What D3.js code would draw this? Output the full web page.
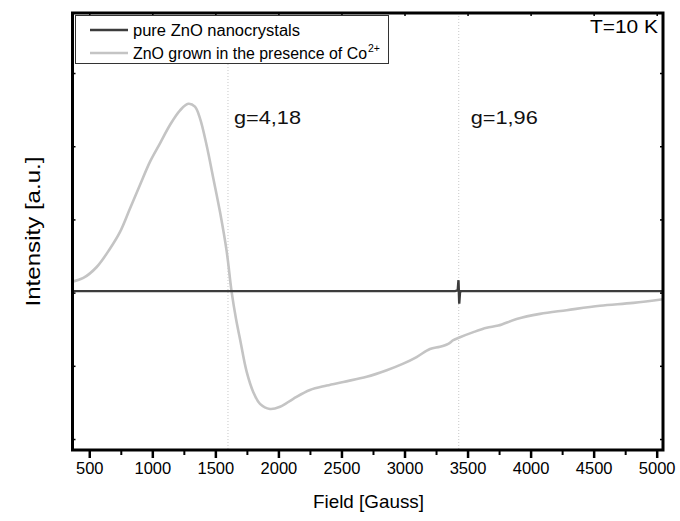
<!DOCTYPE html>
<html><head><meta charset="utf-8">
<script src="https://cdn.jsdelivr.net/npm/d3@7/dist/d3.min.js"></script>
<style>body{margin:0;background:#fff}svg{display:block}text{font-family:Arial,"Liberation Sans",sans-serif}</style>
</head><body><svg id="c" width="680" height="521"></svg>
<script>
const xTicks = [500,1000,1500,2000,2500,3000,3500,4000,4500,5000];
const xMinor = [750,1250,1750,2250,2750,3250,3750,4250,4750];
const yTicks = [-2,-1,0,1,2,3];
const coField = [367,453,559,664,744,823,902,982,1061,1140,1220,1285,1338,1378,1431,1484,1537,1590,1629,1664,1695,1748,1801,1854,1933,2013,2118,2250,2383,2515,2700,2859,2990,3096,3202,3281,3347,3387,3440,3546,3652,3744,3889,4074,4286,4550,4814,5050];
const coVal = [0.15,0.20,0.35,0.60,0.83,1.15,1.47,1.79,2.04,2.29,2.49,2.58,2.54,2.38,2.01,1.56,1.10,0.56,0.01,-0.36,-0.63,-1.08,-1.36,-1.52,-1.59,-1.56,-1.45,-1.33,-1.27,-1.22,-1.15,-1.06,-0.97,-0.88,-0.77,-0.74,-0.70,-0.65,-0.61,-0.54,-0.48,-0.45,-0.36,-0.29,-0.24,-0.18,-0.14,-0.09];
const pureField = [367,800,1500,2200,3000,3400,3422,3428,3434,3440,3446,3470,4000,4600,5050];
const pureVal = [0.02,0.02,0.02,0.02,0.02,0.02,0.03,0.17,-0.15,0.0,0.02,0.02,0.02,0.02,0.02];
const gLines = [1600,3430];
const gLabels = ["g=4,18","g=1,96"];
const legendLabels = ["pure ZnO nanocrystals","ZnO grown in the presence of Co"];

const svg = d3.select("#c");
const L=72.5,R=663,T=13,B=450;
const x = d3.scaleLinear().domain([367,5050]).range([L,R]);
const y = d3.scaleLinear().domain([-2.15,3.82]).range([B,T]);

// reference lines
svg.selectAll(".gl").data(gLines).enter().append("line")
 .attr("x1",d=>x(d)).attr("x2",d=>x(d)).attr("y1",T).attr("y2",B)
 .attr("stroke","#c8c8c8").attr("stroke-width",1).attr("stroke-dasharray","1,2");
const gOff = [6,12];
svg.selectAll(".glt").data(gLabels).enter().append("text")
 .attr("x",(d,i)=>x(gLines[i])+gOff[i]).attr("y",124).attr("font-size",19)
 .attr("textLength",67).attr("lengthAdjust","spacingAndGlyphs").attr("fill","#111").text(d=>d);

const line = d3.line().x(d=>x(d[0])).y(d=>y(d[1])).curve(d3.curveCatmullRom.alpha(0.5));
svg.append("path").datum(coField.map((f,i)=>[f,coVal[i]])).attr("d",line)
 .attr("fill","none").attr("stroke","#c4c4c4").attr("stroke-width",2.6);
svg.append("path").datum(pureField.map((f,i)=>[f,pureVal[i]])).attr("d",d3.line().x(d=>x(d[0])).y(d=>y(d[1])))
 .attr("fill","none").attr("stroke","#3c3c3c").attr("stroke-width",2.4);

// axes
const gx = svg.append("g").attr("transform",`translate(0,${B})`)
 .call(d3.axisBottom(x).tickValues(xTicks).tickSize(8).tickPadding(4).tickFormat(d3.format("d")));
gx.select(".domain").remove();
gx.selectAll("line").attr("stroke","#000").attr("stroke-width",2.5);
gx.selectAll("text").attr("font-size",16.5).attr("font-family","Arial, Liberation Sans, sans-serif").attr("fill","#000");
const gxm = svg.append("g").attr("transform",`translate(0,${B})`)
 .call(d3.axisBottom(x).tickValues(xMinor).tickSize(5).tickFormat(""));
gxm.select(".domain").remove();
gxm.selectAll("line").attr("stroke","#000").attr("stroke-width",2);
const gt = svg.append("g").attr("transform",`translate(0,${T})`)
 .call(d3.axisBottom(x).tickValues(xTicks).tickSize(3).tickFormat(""));
gt.select(".domain").remove(); gt.selectAll("line").attr("stroke","#000").attr("stroke-width",1.5);
const gl = svg.append("g").attr("transform",`translate(${L},0)`)
 .call(d3.axisRight(y).tickValues(yTicks).tickSize(3).tickFormat(""));
gl.select(".domain").remove(); gl.selectAll("line").attr("stroke","#000").attr("stroke-width",1.5);
const gr = svg.append("g").attr("transform",`translate(${R},0)`)
 .call(d3.axisLeft(y).tickValues(yTicks).tickSize(3).tickFormat(""));
gr.select(".domain").remove(); gr.selectAll("line").attr("stroke","#000").attr("stroke-width",1.5);

svg.append("rect").attr("x",L).attr("y",T).attr("width",R-L).attr("height",B-T)
 .attr("fill","none").attr("stroke","#000").attr("stroke-width",3);

// legend
const lg = svg.append("g");
lg.append("rect").attr("x",75.5).attr("y",15.5).attr("width",313).attr("height",48)
 .attr("fill","#fff").attr("stroke","#333").attr("stroke-width",1);
const lc = ["#3c3c3c","#c4c4c4"];
const lLen = [167,234];
legendLabels.forEach((t,i)=>{
  const yy = 30 + i*23;
  lg.append("line").attr("x1",90).attr("x2",128).attr("y1",yy).attr("y2",yy).attr("stroke",lc[i]).attr("stroke-width",2.4);
  lg.append("text").attr("x",133).attr("y",yy+6).attr("font-size",16)
    .attr("textLength",lLen[i]).attr("lengthAdjust","spacingAndGlyphs").attr("fill","#000").text(t);
});
lg.append("text").attr("x",368).attr("y",52).attr("font-size",10.5).text("2+");

svg.append("text").attr("x",590).attr("y",33).attr("font-size",19)
 .attr("textLength",68).attr("lengthAdjust","spacingAndGlyphs").text("T=10 K");
svg.append("text").attr("x",313).attr("y",508).attr("font-size",18.5)
 .attr("textLength",111).attr("lengthAdjust","spacingAndGlyphs").text("Field [Gauss]");
svg.append("text").attr("transform",`translate(40,${(T+B)/2}) rotate(-90)`).attr("text-anchor","middle").attr("font-size",19.5)
 .attr("textLength",150).attr("lengthAdjust","spacingAndGlyphs").text("Intensity [a.u.]");
</script></body></html>
